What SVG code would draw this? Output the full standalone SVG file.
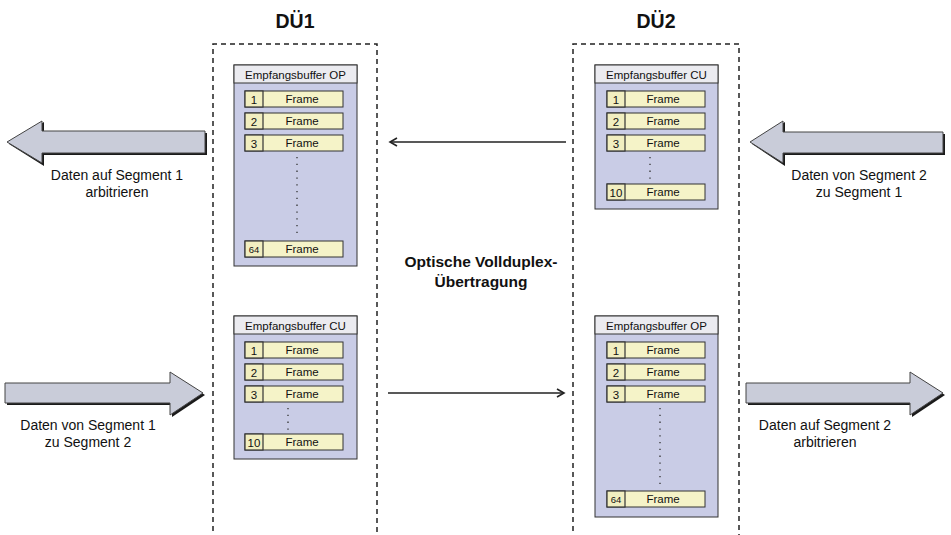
<svg xmlns="http://www.w3.org/2000/svg" width="951" height="535" viewBox="0 0 951 535">
<style>
text{font-family:"Liberation Sans",Arial,sans-serif;fill:#111}
.title{font-size:19.5px;font-weight:bold;text-anchor:middle}
.lbl{font-size:14px;text-anchor:middle}
.opt{font-size:15.5px;font-weight:bold;text-anchor:middle}
.dash{fill:none;stroke:#222;stroke-width:1.5;stroke-dasharray:5,4}
.body{fill:#c9cce6;stroke:#333;stroke-width:1}
.head{fill:#ebebf0;stroke:#333;stroke-width:1}
.htxt{font-size:11.5px;text-anchor:middle}
.num{fill:#f1eec0;stroke:#333;stroke-width:1.2}
.frm{fill:#f5f3c8;stroke:#333;stroke-width:1}
.ntxt{font-size:11.5px;text-anchor:middle}
.ftxt{font-size:11.5px;text-anchor:middle}
.dots{stroke:#333;stroke-width:1.3;stroke-dasharray:1.3,5.5}
.big{fill:#c9ccd9;stroke:#444;stroke-width:1}
.shadow{fill:#1a1a1a}
.conn{stroke:#222;stroke-width:1.5;fill:none}
</style>
<defs>
<marker id="ah" markerWidth="10" markerHeight="10" refX="8" refY="5" orient="auto" markerUnits="userSpaceOnUse">
<path d="M1,1 L8,5 L1,9" fill="none" stroke="#222" stroke-width="1.6"/>
</marker>
</defs>

<g id="due1">
<text class="title" x="295" y="28">DÜ1</text>
<path class="dash" d="M213,540 L213,44 L377,44 L377,540"/>
</g>
<g id="due2">
<text class="title" x="656" y="28">DÜ2</text>
<path class="dash" d="M573,540 L573,44 L739,44 L739,540"/>
</g>

<g id="buf1op">
<rect class="body" x="234" y="65" width="123" height="201"/>
<rect class="head" x="234" y="65" width="123" height="18"/>
<text class="htxt" x="295.5" y="78.5">Empfangsbuffer OP</text>
<rect class="frm" x="245" y="91" width="98" height="16"/><rect class="num" x="245" y="91" width="18" height="16"/>
<text class="ntxt" x="254" y="103.5">1</text><text class="ftxt" x="302" y="103">Frame</text>
<rect class="frm" x="245" y="113" width="98" height="16"/><rect class="num" x="245" y="113" width="18" height="16"/>
<text class="ntxt" x="254" y="125.5">2</text><text class="ftxt" x="302" y="125">Frame</text>
<rect class="frm" x="245" y="135" width="98" height="16"/><rect class="num" x="245" y="135" width="18" height="16"/>
<text class="ntxt" x="254" y="147.5">3</text><text class="ftxt" x="302" y="147">Frame</text>
<line class="dots" x1="297" y1="157" x2="297" y2="235"/>
<rect class="frm" x="245" y="241" width="98" height="16"/><rect class="num" x="245" y="241" width="18" height="16"/>
<text class="ntxt" x="254" y="253" style="font-size:9.5px">64</text><text class="ftxt" x="302" y="253">Frame</text>
</g>

<g id="buf1cu">
<rect class="body" x="234" y="316" width="123" height="143"/>
<rect class="head" x="234" y="316" width="123" height="18"/>
<text class="htxt" x="295.5" y="329.5">Empfangsbuffer CU</text>
<rect class="frm" x="245" y="342" width="98" height="16"/><rect class="num" x="245" y="342" width="18" height="16"/>
<text class="ntxt" x="254" y="354.5">1</text><text class="ftxt" x="302" y="354">Frame</text>
<rect class="frm" x="245" y="364" width="98" height="16"/><rect class="num" x="245" y="364" width="18" height="16"/>
<text class="ntxt" x="254" y="376.5">2</text><text class="ftxt" x="302" y="376">Frame</text>
<rect class="frm" x="245" y="386" width="98" height="16"/><rect class="num" x="245" y="386" width="18" height="16"/>
<text class="ntxt" x="254" y="398.5">3</text><text class="ftxt" x="302" y="398">Frame</text>
<line class="dots" x1="288" y1="408" x2="288" y2="430"/>
<rect class="frm" x="245" y="434" width="98" height="16"/><rect class="num" x="245" y="434" width="18" height="16"/>
<text class="ntxt" x="254" y="446.5">10</text><text class="ftxt" x="302" y="446">Frame</text>
</g>

<g id="buf2cu">
<rect class="body" x="595" y="65" width="123" height="144"/>
<rect class="head" x="595" y="65" width="123" height="18"/>
<text class="htxt" x="656.5" y="78.5">Empfangsbuffer CU</text>
<rect class="frm" x="607" y="91" width="98" height="16"/><rect class="num" x="607" y="91" width="18" height="16"/>
<text class="ntxt" x="616" y="103.5">1</text><text class="ftxt" x="663" y="103">Frame</text>
<rect class="frm" x="607" y="113" width="98" height="16"/><rect class="num" x="607" y="113" width="18" height="16"/>
<text class="ntxt" x="616" y="125.5">2</text><text class="ftxt" x="663" y="125">Frame</text>
<rect class="frm" x="607" y="135" width="98" height="16"/><rect class="num" x="607" y="135" width="18" height="16"/>
<text class="ntxt" x="616" y="147.5">3</text><text class="ftxt" x="663" y="147">Frame</text>
<line class="dots" x1="650" y1="157" x2="650" y2="179"/>
<rect class="frm" x="607" y="184" width="98" height="16"/><rect class="num" x="607" y="184" width="18" height="16"/>
<text class="ntxt" x="616" y="196.5">10</text><text class="ftxt" x="663" y="196">Frame</text>
</g>

<g id="buf2op">
<rect class="body" x="595" y="316" width="123" height="201"/>
<rect class="head" x="595" y="316" width="123" height="18"/>
<text class="htxt" x="656.5" y="329.5">Empfangsbuffer OP</text>
<rect class="frm" x="607" y="342" width="98" height="16"/><rect class="num" x="607" y="342" width="18" height="16"/>
<text class="ntxt" x="616" y="354.5">1</text><text class="ftxt" x="663" y="354">Frame</text>
<rect class="frm" x="607" y="364" width="98" height="16"/><rect class="num" x="607" y="364" width="18" height="16"/>
<text class="ntxt" x="616" y="376.5">2</text><text class="ftxt" x="663" y="376">Frame</text>
<rect class="frm" x="607" y="386" width="98" height="16"/><rect class="num" x="607" y="386" width="18" height="16"/>
<text class="ntxt" x="616" y="398.5">3</text><text class="ftxt" x="663" y="398">Frame</text>
<line class="dots" x1="660" y1="408" x2="660" y2="486"/>
<rect class="frm" x="607" y="491" width="98" height="16"/><rect class="num" x="607" y="491" width="18" height="16"/>
<text class="ntxt" x="616" y="503" style="font-size:9.5px">64</text><text class="ftxt" x="663" y="503">Frame</text>
</g>

<g id="arrow-tl">
<polygon class="shadow" points="9,144 44,122 44,133 207,133 207,155 44,155 44,166"/>
<polygon class="big" points="7,142 42,121 42,131 205,131 205,153 42,153 42,163"/>
<text class="lbl" x="117" y="180">Daten auf Segment 1</text>
<text class="lbl" x="117" y="197">arbitrieren</text>
</g>
<g id="arrow-tr">
<polygon class="shadow" points="752,144 785,122 785,134 945,134 945,155 785,155 785,166"/>
<polygon class="big" points="750,142 783,121 783,132 943,132 943,153 783,153 783,163"/>
<text class="lbl" x="859" y="180">Daten von Segment 2</text>
<text class="lbl" x="859" y="197">zu Segment 1</text>
</g>
<g id="arrow-bl">
<polygon class="shadow" points="7,385 172,385 172,374 205,395 172,417 172,405 7,405"/>
<polygon class="big" points="5,383 170,383 170,372 203,393 170,415 170,403 5,403"/>
<text class="lbl" x="88" y="430">Daten von Segment 1</text>
<text class="lbl" x="88" y="447">zu Segment 2</text>
</g>
<g id="arrow-br">
<polygon class="shadow" points="748,385 912,385 912,374 945,395 912,417 912,405 748,405"/>
<polygon class="big" points="746,383 910,383 910,372 943,393 910,415 910,403 746,403"/>
<text class="lbl" x="825" y="430">Daten auf Segment 2</text>
<text class="lbl" x="825" y="447">arbitrieren</text>
</g>

<g id="connectors">
<line class="conn" x1="566" y1="142" x2="390" y2="142" marker-end="url(#ah)"/>
<line class="conn" x1="388" y1="393" x2="564" y2="393" marker-end="url(#ah)"/>
</g>

<g id="label-optisch">
<text class="opt" x="481" y="267">Optische Vollduplex-</text>
<text class="opt" x="481" y="287">Übertragung</text>
</g>
</svg>
